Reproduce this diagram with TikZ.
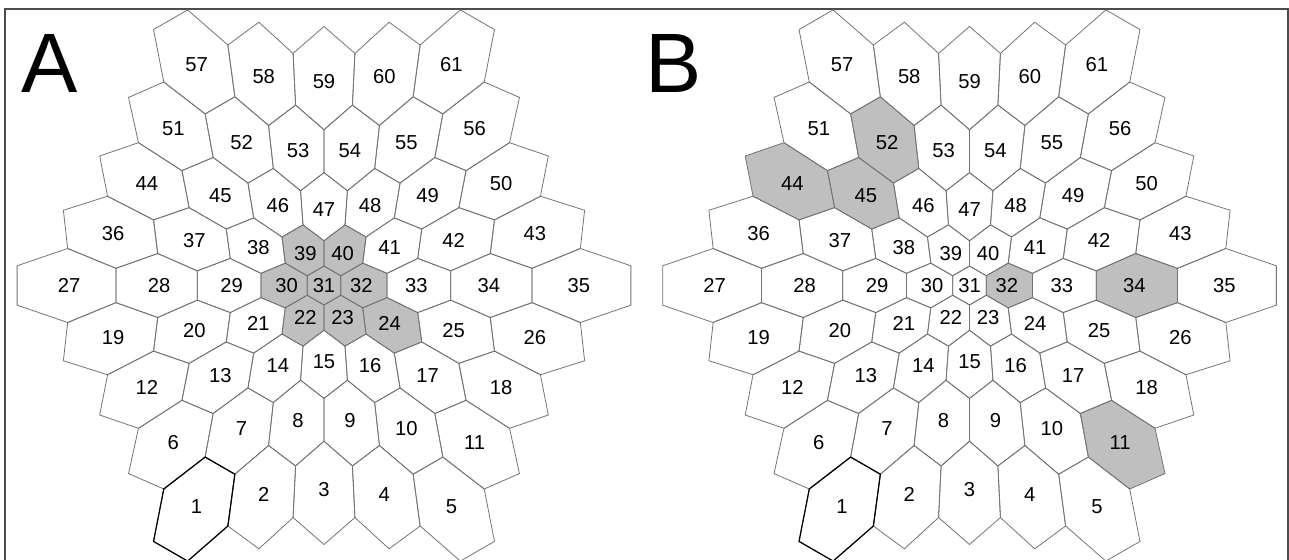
\documentclass[tikz,border=0pt]{standalone}
\usepackage{fontspec}
\setmainfont{Liberation Sans}
\usetikzlibrary{backgrounds}

\newcommand\hexcell[4]{%
  \foreach \ang [count=\m] in {30,90,...,330}{
    \pgfmathsetmacro\pu{#3+0.57735*cos(\ang)}
    \pgfmathsetmacro\pv{#4+0.57735*sin(\ang)}
    \pgfmathsetmacro\pf{28.6+8.78*sqrt(\pu*\pu+\pv*\pv)}
    \coordinate (#1#2-\m) at ({\cx+\pu*\pf},{285.5-\pv*\pf});
  }
  \draw[cell] (#1#2-1) \foreach \m in {2,...,6}{ -- (#1#2-\m)} -- cycle;
  \pgfmathsetmacro\cf{28.6+8.78*sqrt((#3)*(#3)+(#4)*(#4))}
  \node[lab] (#1#2) at ({\cx+(#3)*\cf},{285.5-(#4)*\cf}) {#2};
}

\begin{document}
\begin{tikzpicture}[x=0.02cm, y=-0.02cm,
  cell/.style={draw=black!55, line width=0.45pt},
  shade/.style={fill=black!25},
  lab/.style={inner sep=0pt, font=\fontsize{11.5}{13}\selectfont},
  tag/.style={inner sep=0pt, font=\fontsize{48}{50}\selectfont},
  frame/.style={draw=black!70, line width=1.1pt}]
\useasboundingbox (0,0) rectangle (1289,560);
\draw[frame] (5,575) -- (5,9) -- (1288,9) -- (1288,575);
\node[tag] (tagA) at (50,63) {A};
\node[tag] (tagB) at (674,63) {B};
\foreach \pan/\cx in {A/324, B/969.5}{
  \foreach \j/\n/\s in {-4/5/1,-3/6/6,-2/7/12,-1/8/19,0/9/27,1/8/36,2/7/44,3/6/51,4/5/57}{
    \foreach \k in {1,...,\n}{
      \pgfmathsetmacro\hu{\k-(\n+1)/2}
      \pgfmathsetmacro\hv{\j*0.866025}
      \pgfmathtruncatemacro\cellno{\s+\k-1}
      \hexcell{\pan}{\cellno}{\hu}{\hv}
    }
  }
}
\begin{pgfonlayer}{background}
\foreach \c in {A22,A23,A24,A30,A31,A32,A39,A40,B11,B32,B34,B44,B45,B52}
  \fill[shade] (\c-1) -- (\c-2) -- (\c-3) -- (\c-4) -- (\c-5) -- (\c-6) -- cycle;
\end{pgfonlayer}
\foreach \c in {A1,B1}
  \draw[line width=0.7pt] (\c-1) -- (\c-2) -- (\c-3) -- (\c-4) -- (\c-5) -- (\c-6) -- cycle;
\end{tikzpicture}
\end{document}
